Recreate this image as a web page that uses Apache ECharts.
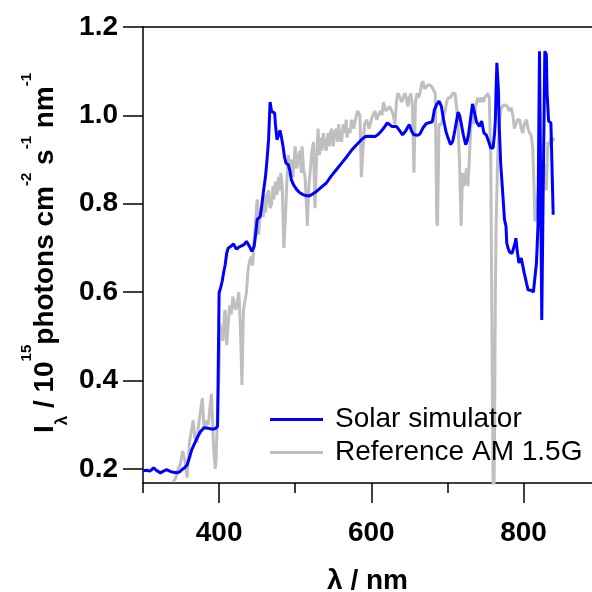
<!DOCTYPE html>
<html>
<head>
<meta charset="utf-8">
<script src="https://cdn.jsdelivr.net/npm/echarts@6/dist/echarts.min.js"></script>
<style>
  html, body { margin: 0; padding: 0; background: #fff; }
  #chart { width: 592px; height: 592px; }
</style>
</head>
<body>
<div id="chart"></div>
<script>
// solar simulator spectrum (blue)
const simWavelength = [
  300, 305, 309, 314, 318, 323, 327, 331, 335, 338, 342, 345, 348, 351, 355, 358,
  361, 364, 368, 371, 375, 380, 386, 390, 393, 396, 398, 399, 400, 402, 404, 406,
  408, 410, 412, 415, 417, 419, 421, 423, 426, 430, 433, 436, 438, 441, 443, 446,
  448, 450, 452, 454, 456, 458, 461, 463, 465, 467, 469, 471, 473, 474, 476, 478,
  480, 482, 484, 486, 488, 491, 493, 495, 498, 502, 506, 511, 515, 519, 523, 528,
  534, 541, 547, 554, 561, 568, 574, 581, 587, 592, 598, 605, 609, 613, 617, 621,
  624, 627, 633, 637, 641, 645, 648, 650, 653, 656, 658, 661, 664, 668, 672, 677,
  680, 683, 686, 689, 692, 695, 698, 701, 704, 707, 710, 714, 716, 718, 721, 724,
  726, 728, 731, 733, 735, 738, 740, 742, 745, 748, 751, 754, 757, 760, 762, 763,
  764, 765, 767, 768, 770, 773, 775, 777, 778, 780, 782, 785, 787, 789, 790, 792,
  794, 797, 799, 801, 804, 806, 810, 813, 815, 817, 819, 820, 821, 822, 823, 824,
  826, 828, 830, 831, 833, 836, 839
];
const simIntensity = [
  0.196, 0.197, 0.195, 0.202, 0.196, 0.191, 0.195, 0.198, 0.195, 0.193, 0.192, 0.191, 0.193, 0.198, 0.203, 0.209,
  0.225, 0.243, 0.258, 0.270, 0.283, 0.293, 0.292, 0.290, 0.290, 0.292, 0.297, 0.300, 0.598, 0.610, 0.624, 0.645,
  0.662, 0.688, 0.700, 0.703, 0.700, 0.709, 0.702, 0.697, 0.702, 0.705, 0.708, 0.715, 0.712, 0.700, 0.692, 0.703,
  0.730, 0.764, 0.768, 0.771, 0.795, 0.824, 0.862, 0.900, 0.945, 1.030, 1.009, 1.005, 1.005, 0.980, 0.945, 0.955,
  0.966, 0.950, 0.930, 0.905, 0.892, 0.888, 0.875, 0.854, 0.842, 0.832, 0.825, 0.820, 0.818, 0.818, 0.822, 0.828,
  0.837, 0.847, 0.862, 0.877, 0.892, 0.907, 0.921, 0.934, 0.945, 0.952, 0.953, 0.952, 0.957, 0.964, 0.973, 0.983,
  0.979, 0.975, 0.975, 0.966, 0.956, 0.964, 0.974, 0.979, 0.964, 0.956, 0.952, 0.955, 0.958, 0.972, 0.981, 0.984,
  0.985, 1.013, 1.025, 1.032, 1.021, 0.990, 0.964, 0.948, 0.934, 0.941, 0.968, 1.007, 1.000, 0.983, 0.955, 0.934,
  0.942, 0.960, 1.000, 1.026, 1.010, 0.987, 0.980, 0.975, 0.987, 0.960, 0.956, 0.942, 0.926, 0.926, 0.960, 0.990,
  1.060, 1.119, 1.058, 0.980, 0.892, 0.816, 0.764, 0.749, 0.711, 0.698, 0.690, 0.688, 0.690, 0.712, 0.722, 0.690,
  0.666, 0.677, 0.660, 0.643, 0.620, 0.605, 0.604, 0.600, 0.596, 0.666, 0.749, 0.950, 1.145, 0.950, 0.749, 0.537,
  0.850, 1.145, 1.138, 1.050, 0.987, 0.983, 0.775
];

// reference AM 1.5G spectrum (grey)
const refWavelength = [
  340, 343, 346, 349, 352, 355, 358, 361, 364, 366, 368, 371, 373, 375, 378, 380,
  382, 384, 386, 388, 390, 392, 393, 395, 396, 398, 400, 401, 403, 405, 407, 408,
  410, 412, 414, 416, 418, 420, 422, 424, 426, 428, 430, 432, 434, 436, 438, 440,
  442, 444, 446, 448, 450, 452, 454, 456, 458, 460, 461, 463, 465, 467, 469, 471,
  472, 474, 476, 478, 480, 481, 483, 485, 487, 489, 491, 493, 495, 497, 499, 500,
  502, 504, 506, 508, 509, 511, 513, 516, 518, 520, 522, 524, 526, 528, 530, 532,
  533, 535, 537, 539, 541, 543, 545, 546, 548, 550, 552, 554, 556, 557, 559, 561,
  563, 565, 567, 568, 570, 572, 574, 577, 579, 582, 585, 587, 589, 591, 594, 597,
  600, 602, 605, 607, 609, 612, 614, 616, 619, 621, 624, 627, 629, 631, 633, 635,
  638, 640, 642, 644, 646, 648, 650, 652, 654, 656, 658, 660, 662, 664, 666, 668,
  670, 672, 675, 677, 679, 681, 684, 686, 687, 689, 692, 695, 697, 699, 701, 704,
  707, 710, 712, 714, 716, 718, 720, 722, 723, 725, 727, 729, 731, 733, 735, 737,
  740, 742, 745, 747, 749, 751, 753, 755, 757, 759, 760, 761, 762, 763, 764, 766,
  768, 770, 772, 775, 777, 779, 781, 784, 786, 788, 790, 792, 795, 797, 799, 801,
  804, 806, 808, 810, 812, 814, 815, 817, 819, 821, 823, 825, 827, 830, 832, 834,
  836, 838, 840
];
const refIntensity = [
  0.17, 0.18, 0.20, 0.21, 0.24, 0.22, 0.18, 0.26, 0.29, 0.31, 0.27, 0.26, 0.30, 0.30, 0.36, 0.30,
  0.29, 0.31, 0.30, 0.34, 0.37, 0.28, 0.24, 0.20, 0.22, 0.33, 0.42, 0.53, 0.50, 0.49, 0.55, 0.56,
  0.48, 0.53, 0.57, 0.55, 0.59, 0.57, 0.56, 0.58, 0.60, 0.52, 0.39, 0.56, 0.58, 0.60, 0.65, 0.67,
  0.68, 0.66, 0.72, 0.76, 0.81, 0.73, 0.78, 0.80, 0.77, 0.82, 0.78, 0.82, 0.83, 0.79, 0.80, 0.84,
  0.81, 0.85, 0.82, 0.86, 0.83, 0.87, 0.84, 0.70, 0.76, 0.85, 0.91, 0.87, 0.90, 0.86, 0.91, 0.93,
  0.88, 0.88, 0.92, 0.87, 0.93, 0.88, 0.86, 0.75, 0.84, 0.88, 0.92, 0.94, 0.79, 0.90, 0.97, 0.91,
  0.95, 0.92, 0.96, 0.93, 0.92, 0.96, 0.93, 0.96, 0.97, 0.93, 0.96, 0.97, 0.94, 0.98, 0.95, 0.94,
  0.98, 0.96, 0.99, 0.95, 0.97, 0.96, 0.99, 0.97, 0.99, 1.01, 1.00, 0.86, 0.92, 0.98, 0.99, 0.97,
  0.99, 1.00, 1.01, 0.99, 1.00, 1.01, 1.00, 1.03, 1.01, 1.01, 1.02, 1.01, 1.00, 0.98, 1.03, 1.05,
  1.04, 1.03, 1.04, 1.05, 1.04, 1.02, 1.04, 1.05, 1.02, 0.87, 1.03, 1.05, 1.04, 1.05, 1.07, 1.077,
  1.06, 1.06, 1.07, 1.066, 1.066, 1.06, 1.05, 0.76, 0.75, 0.98, 0.98, 1.00, 1.01, 1.03, 1.04, 1.04,
  1.05, 1.05, 1.02, 0.98, 0.89, 0.75, 0.87, 0.84, 0.85, 0.88, 0.84, 0.91, 0.98, 1.00, 0.98, 1.02,
  1.04, 1.03, 1.04, 1.03, 1.04, 1.04, 1.05, 1.04, 0.90, 0.40, 0.17, 0.10, 0.30, 0.60, 0.75, 0.90,
  0.98, 1.01, 1.02, 1.024, 1.02, 1.02, 1.01, 1.017, 1.00, 0.97, 0.98, 0.99, 0.99, 0.97, 0.96, 0.98,
  0.99, 0.97, 0.96, 0.955, 0.93, 0.83, 0.76, 0.79, 0.82, 0.87, 0.89, 0.85, 0.89, 0.83, 0.94, 0.93,
  0.95, 0.94, 0.95
];

const yTickValues = [0.2, 0.4, 0.6, 0.8, 1.0, 1.2];
const xLabelValues = [400, 600, 800];
const xMinorValues = [300, 500, 700];

const FONT = '"Liberation Sans", Arial, sans-serif';

const chart = echarts.init(document.getElementById('chart'));

const toPairs = (xs, ys) => xs.map((x, i) => [x, ys[i]]);

const option = {
  animation: false,
  grid: { left: 143, right: 0, top: 27, bottom: 109, outerBoundsMode: 'none' },
  legend: {
    data: ['Solar simulator', 'Reference AM 1.5G'],
    orient: 'vertical',
    left: 270,
    top: 404,
    padding: 0,
    icon: 'rect',
    itemWidth: 53,
    itemHeight: 3,
    itemGap: 2,
    textStyle: {
      fontFamily: FONT,
      fontSize: 28,
      lineHeight: 31,
      color: '#000',
      padding: [0, 0, 0, 7],
    },
  },
  // y axis title, with sub- and superscripts
  graphic: [
    {
      type: 'text',
      x: 45,
      y: 253,
      rotation: Math.PI / 2,
      silent: true,
      style: {
        text: '{m|I}{sub|λ}{m| / 10}{sup|15}{m|photons cm}{sup|-2}{m| s}{sup|-1}{m| nm}{sup|-1}',
        align: 'center',
        verticalAlign: 'middle',
        textAlign: 'center',
        textVerticalAlign: 'middle',
        rich: {
          m: {
            fontFamily: FONT,
            fontSize: 28,
            fontWeight: 'bold',
            fill: '#000',
            lineHeight: 52,
            verticalAlign: 'middle',
          },
          sup: {
            fontFamily: FONT,
            fontSize: 15,
            fontWeight: 'bold',
            fill: '#000',
            lineHeight: 15,
            verticalAlign: 'top',
          },
          sub: {
            fontFamily: FONT,
            fontSize: 17,
            fontWeight: 'bold',
            fill: '#000',
            lineHeight: 34,
            verticalAlign: 'bottom',
          },
        },
      },
    },
  ],
  xAxis: [
    {
      type: 'value',
      min: 300,
      max: 890,
      position: 'bottom',
      name: 'λ / nm',
      nameLocation: 'middle',
      nameGap: 84,
      nameTextStyle: {
        fontFamily: FONT,
        fontSize: 28,
        fontWeight: 'bold',
        color: '#000',
      },
      axisLine: { lineStyle: { color: '#000', width: 1.5 } },
      axisTick: {
        show: true,
        length: 20,
        customValues: xLabelValues,
        lineStyle: { color: '#000', width: 1.5 },
      },
      axisLabel: {
        customValues: xLabelValues,
        margin: 36,
        fontFamily: FONT,
        fontSize: 28,
        fontWeight: 'bold',
        color: '#000',
      },
      splitLine: { show: false },
    },
    {
      // minor ticks on the bottom axis
      type: 'value',
      min: 300,
      max: 890,
      position: 'bottom',
      axisLine: { show: false },
      axisTick: {
        show: true,
        length: 10,
        customValues: xMinorValues,
        lineStyle: { color: '#000', width: 1.5 },
      },
      axisLabel: { show: false },
      splitLine: { show: false },
    },
    {
      // frame line on top
      type: 'value',
      min: 300,
      max: 890,
      position: 'top',
      axisLine: { lineStyle: { color: '#000', width: 1.5 } },
      axisTick: { show: false },
      axisLabel: { show: false },
      splitLine: { show: false },
    },
  ],
  yAxis: {
    type: 'value',
    min: 0.168,
    max: 1.2,
    axisLine: { lineStyle: { color: '#000', width: 1.5 } },
    axisTick: {
      show: true,
      length: 20,
      customValues: yTickValues,
      lineStyle: { color: '#000', width: 1.5 },
    },
    axisLabel: {
      customValues: yTickValues,
      margin: 25,
      fontFamily: FONT,
      fontSize: 28,
      fontWeight: 'bold',
      color: '#000',
      formatter: (v) => v.toFixed(1),
    },
    splitLine: { show: false },
  },
  series: [
    {
      name: 'Reference AM 1.5G',
      type: 'line',
      xAxisIndex: 0,
      data: toPairs(refWavelength, refIntensity),
      showSymbol: false,
      clip: true,
      lineStyle: { color: '#bfbfbf', width: 3 },
      itemStyle: { color: '#bfbfbf' },
      z: 2,
    },
    {
      name: 'Solar simulator',
      type: 'line',
      xAxisIndex: 0,
      data: toPairs(simWavelength, simIntensity),
      showSymbol: false,
      clip: true,
      lineStyle: { color: '#0000ff', width: 3 },
      itemStyle: { color: '#0000ff' },
      z: 3,
    },
  ],
};

chart.setOption(option);
</script>
</body>
</html>
